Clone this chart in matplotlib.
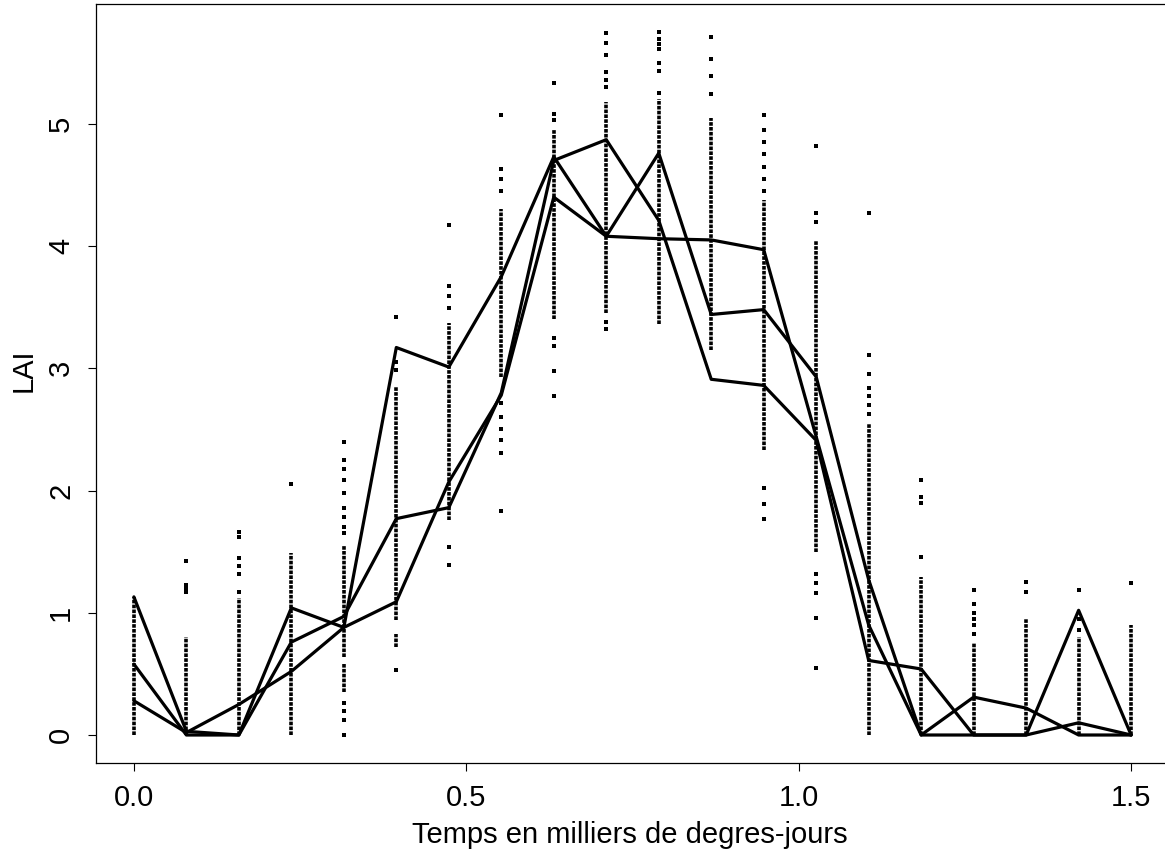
import numpy as np
import matplotlib
matplotlib.use("Agg")
import matplotlib.pyplot as plt

plt.rcParams['font.family'] = ['Liberation Sans', 'DejaVu Sans']

# time grid, thousands of degree-days
temps = np.linspace(0, 1.5, 20)

# three simulated LAI trajectories
lai_1 = [1.13, 0.03, 0.00, 1.04, 0.88, 3.17, 3.01, 3.75, 4.73, 4.08,
         4.06, 4.05, 3.97, 2.44, 0.90, 0.00, 0.00, 0.00, 1.02, 0.00]
lai_2 = [0.58, 0.00, 0.00, 0.76, 0.97, 1.77, 1.86, 2.80, 4.70, 4.87,
         4.21, 2.91, 2.86, 2.41, 0.61, 0.54, 0.00, 0.00, 0.10, 0.00]
lai_3 = [0.28, 0.02, 0.25, 0.52, 0.88, 1.09, 2.07, 2.78, 4.40, 4.08,
         4.76, 3.44, 3.48, 2.93, 1.27, 0.00, 0.31, 0.22, 0.00, 0.00]

# observed points: dense runs (low, high) and isolated points, per date
dense_runs = [
    [(0.00, 1.13)],
    [(0.00, 0.80)],
    [(0.00, 1.12)],
    [(0.00, 1.49)],
    [(0.64, 1.55), (0.35, 0.59)],
    [(0.94, 2.85), (0.72, 0.83)],
    [(1.76, 3.37)],
    [(2.93, 4.30)],
    [(3.40, 4.95)],
    [(3.45, 5.18)],
    [(3.36, 5.20)],
    [(3.15, 5.05)],
    [(2.33, 4.38)],
    [(1.50, 4.05)],
    [(0.00, 2.55)],
    [(0.00, 1.29)],
    [(0.00, 0.75)],
    [(0.00, 0.96)],
    [(0.00, 0.80)],
    [(0.00, 0.90)],
]
single_pts = [
    [],
    [1.42, 1.23, 1.20, 1.17],
    [1.66, 1.62, 1.45, 1.38, 1.32, 1.17],
    [2.05],
    [0.26, 0.20, 0.12, 0.00, 1.65, 1.70, 1.78, 1.86, 1.98, 2.09, 2.18, 2.25, 2.40],
    [0.53, 2.99, 3.05, 3.42],
    [3.49, 3.59, 3.67, 4.17, 1.54, 1.39],
    [4.45, 4.55, 4.63, 5.07, 2.72, 2.60, 2.50, 2.41, 2.31, 1.83],
    [5.03, 5.08, 5.33, 3.25, 3.18, 2.98, 2.77],
    [3.38, 3.32, 5.30, 5.36, 5.42, 5.56, 5.66, 5.74],
    [5.25, 5.43, 5.50, 5.61, 5.65, 5.69, 5.75],
    [5.24, 5.39, 5.53, 5.71],
    [4.45, 4.55, 4.65, 4.75, 4.85, 4.95, 5.07, 2.02, 1.89, 1.77],
    [4.82, 4.27, 4.20, 1.32, 1.24, 1.16, 0.96, 0.55],
    [4.27, 3.11, 2.95, 2.84, 2.77, 2.70, 2.63],
    [2.09, 1.95, 1.90, 1.46],
    [1.19, 1.07, 1.00, 0.95, 0.90, 0.83],
    [1.25, 1.17],
    [1.19, 0.95, 0.86],
    [1.24],
]

fig = plt.figure(figsize=(11.65, 8.59), dpi=100)
# right side of the box falls just outside the picture, as in the original
ax = fig.add_axes([96 / 1165, 1 - 763 / 859, (1171 - 96) / 1165, (763 - 4) / 859])

for t, runs, pts in zip(temps, dense_runs, single_pts):
    for lo, hi in runs:
        ax.vlines(t, lo, hi, color='black', linewidth=2.6,
                  linestyles=(0, (1, 0.35)))
    ax.scatter(np.full(len(pts), t), pts, s=6, marker='s', color='black',
               linewidths=0)

for serie in (lai_1, lai_2, lai_3):
    ax.plot(temps, serie, color='black', linewidth=2.3,
            solid_joinstyle='round', solid_capstyle='round')

ax.set_xlim(-0.057, 1.56)
ax.set_ylim(-0.229, 5.98)
ax.set_xticks([0.0, 0.5, 1.0, 1.5])
ax.set_xticklabels(['0.0', '0.5', '1.0', '1.5'])
ax.set_yticks([0, 1, 2, 3, 4, 5])
ax.tick_params(axis='both', direction='out', length=6, width=0.8,
               labelsize=21, pad=9)
for lab in ax.get_yticklabels():
    lab.set_rotation(90)
    lab.set_va('center')
for sp in ax.spines.values():
    sp.set_linewidth(0.9)

ax_w, ax_h = 1171 - 96, 763 - 4
ax.set_xlabel('Temps en milliers de degres-jours', fontsize=21)
ax.set_ylabel('LAI', fontsize=21)
ax.xaxis.set_label_coords((630 - 96) / ax_w, -(821 - 763) / ax_h)
ax.yaxis.set_label_coords(-(96 - 38) / ax_w, (763 - 370) / ax_h)

fig.savefig('out.png', dpi=100)
